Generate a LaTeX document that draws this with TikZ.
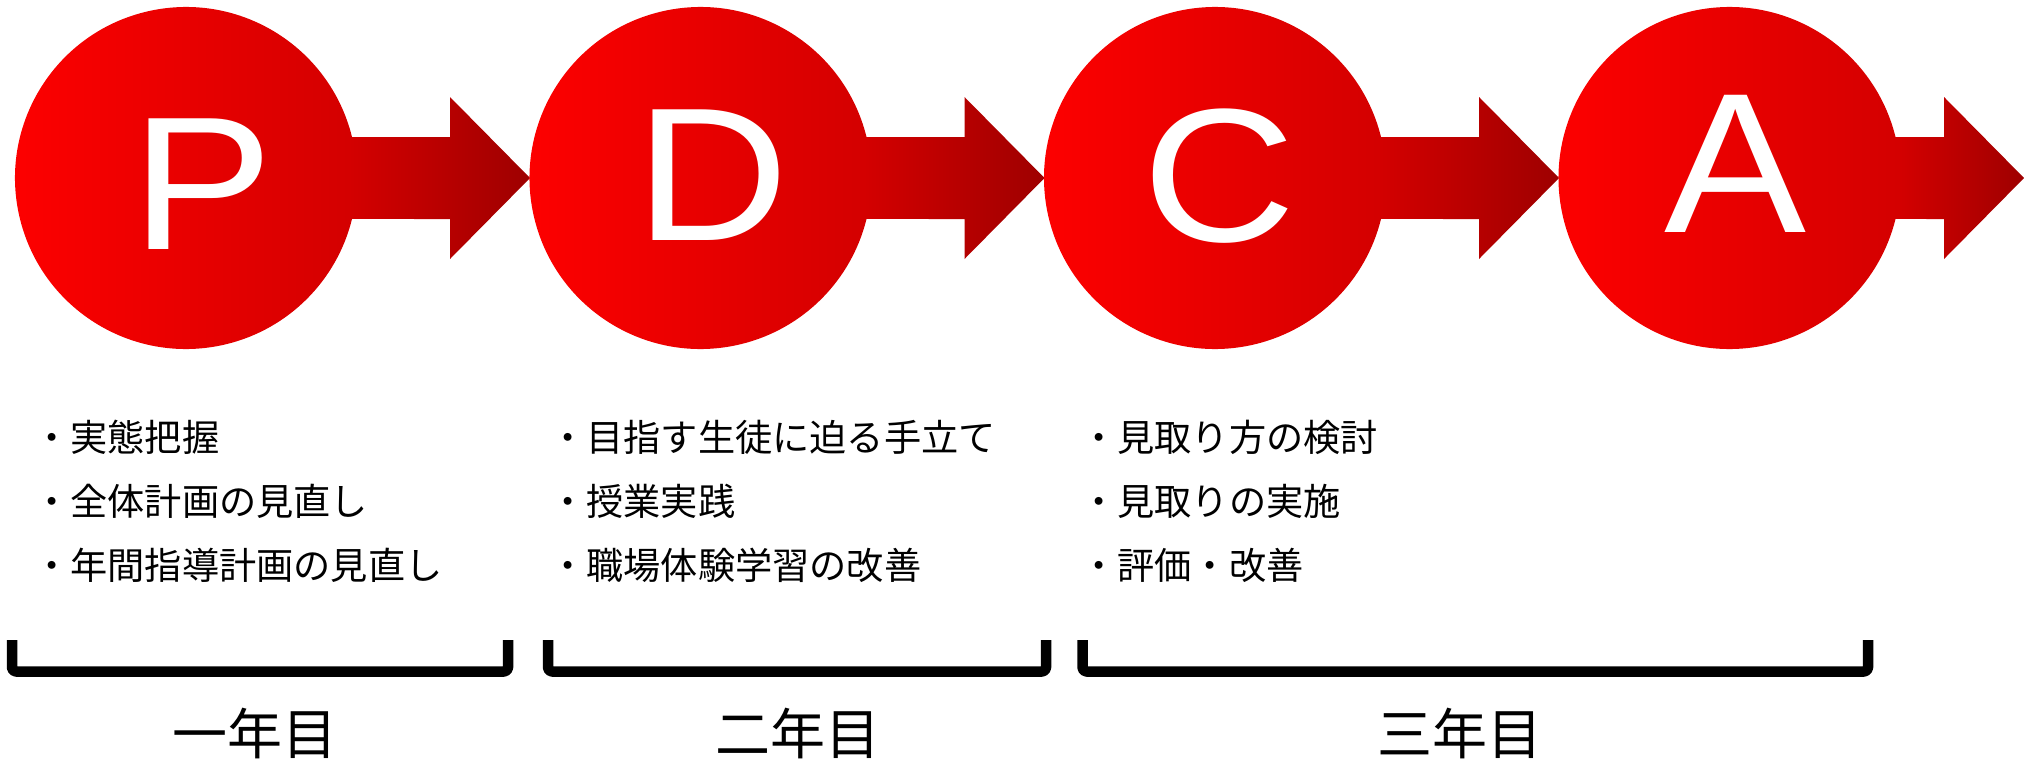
\documentclass[tikz,border=0pt]{standalone}
\usepackage{fontspec}
\setmainfont{Liberation Sans}
\newfontfamily\jpfont{Noto Sans CJK JP}
\definecolor{redL}{HTML}{FF0000}
\definecolor{redM}{HTML}{D40000}
\definecolor{redR}{HTML}{9E0000}
\pgfdeclarehorizontalshading{pdcashadeU}{100bp}{color(0bp)=(redL); color(25bp)=(redL); color(58bp)=(redM); color(75bp)=(redR); color(100bp)=(redR)}
\pgfdeclarehorizontalshading{pdcashadeV}{100bp}{color(0bp)=(redL); color(25bp)=(redL); color(62bp)=(redM); color(75bp)=(redR); color(100bp)=(redR)}
\newcommand\pdcaunit[4]{%
  \shade[shading=#4]
    (#1,178) ++(-13.87:171) arc[start angle=-13.87, end angle=-346.13, radius=171]
    -- (#2,219) -- (#2,259) -- (#3,178) -- (#2,97) -- (#2,137) -- cycle;
}
\tikzset{
  letter/.style={anchor=base, inner sep=0pt, text=white, font=\fontsize{190}{190}\selectfont},
  item/.style={anchor=west, inner sep=0pt, font=\jpfont\fontsize{37.2}{40}\selectfont},
  year/.style={anchor=center, inner sep=0pt, font=\jpfont\fontsize{55}{60}\selectfont},
  bracket/.style={line width=10.5pt, rounded corners=4pt, line join=round}
}
\begin{document}
\begin{tikzpicture}[x=1pt, y=-1pt]
\useasboundingbox (0,0) rectangle (2031,758);
% circles with arrows
\pdcaunit{186}{450}{530}{pdcashadeU}
\pdcaunit{700.5}{964.5}{1044.5}{pdcashadeU}
\pdcaunit{1215}{1479}{1559}{pdcashadeU}
\pdcaunit{1729.5}{1944}{2024}{pdcashadeV}
% letters
\node[letter] (P) at (202,249) {\scalebox{1.12}[1]{P}};
\node[letter] (D) at (712,240) {\scalebox{1.12}[1]{D}};
\node[letter] (C) at (1219,241) {\scalebox{1.12}[1]{C}};
\node[letter] (A) at (1735,232) {\scalebox{1.12}[1.05]{A}};
% items
\node[item] (p1) at (33,437) {・実態把握};
\node[item] (p2) at (33,501) {・全体計画の見直し};
\node[item] (p3) at (33,565) {・年間指導計画の見直し};
\node[item] (d1) at (549,437) {・目指す生徒に迫る手立て};
\node[item] (d2) at (549,501) {・授業実践};
\node[item] (d3) at (549,565) {・職場体験学習の改善};
\node[item] (c1) at (1080,437) {・見取り方の検討};
\node[item] (c2) at (1080,501) {・見取りの実施};
\node[item] (c3) at (1080,565) {・評価・改善};
% brackets
\draw[bracket] (12,640) -- (12,671.5) -- (508,671.5) -- (508,640);
\draw[bracket] (548,640) -- (548,671.5) -- (1046,671.5) -- (1046,640);
\draw[bracket] (1082.5,640) -- (1082.5,671.5) -- (1868,671.5) -- (1868,640);
% year labels
\node[year] (y1) at (254.5,733) {一年目};
\node[year] (y2) at (798,733) {二年目};
\node[year] (y3) at (1460,733) {三年目};
\end{tikzpicture}
\end{document}
